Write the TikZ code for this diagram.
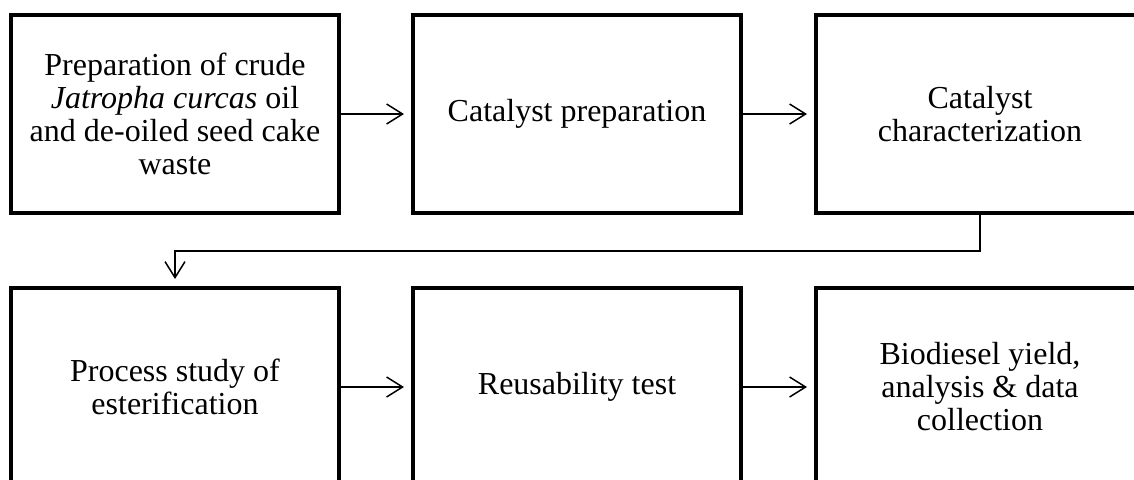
\documentclass[tikz,border=0pt]{standalone}
\usepackage{fontspec}
\setmainfont{Liberation Serif}
\usetikzlibrary{arrows.meta}
\begin{document}
\begin{tikzpicture}[x=0.5pt,y=-0.5pt,
  stepbox/.style={draw, line width=2pt, minimum width=164pt, minimum height=99pt,
    inner sep=0pt, outer sep=0pt, align=center,
    font=\fontsize{16}{16.5}\selectfont},
  conn/.style={line width=0.75pt,
    -{Straight Barb[length=8pt,width=10pt,line width=0.75pt]}, shorten >=4.5pt}]
\useasboundingbox (0,0) rectangle (1134,479);
\clip (0,0) rectangle (1134,479);
\node[stepbox] (b1) at (175,114) {Preparation of crude\\\textit{Jatropha curcas} oil\\and de-oiled seed cake\\waste};
\node[stepbox] (b2) at (577,114) {Catalyst preparation};
\node[stepbox] (b3) at (980,114) {Catalyst\\characterization};
\node[stepbox] (b4) at (175,387) {Process study of\\esterification};
\node[stepbox] (b5) at (577,387) {Reusability test};
\node[stepbox] (b6) at (980,387) {Biodiesel yield,\\analysis \& data\\collection};
\draw[conn] (b1.east) -- (b2.west);
\draw[conn] (b2.east) -- (b3.west);
\draw[conn] (b3.south) -- ++(0,38) -| (b4.north);
\draw[conn] (b4.east) -- (b5.west);
\draw[conn] (b5.east) -- (b6.west);
\end{tikzpicture}
\end{document}
